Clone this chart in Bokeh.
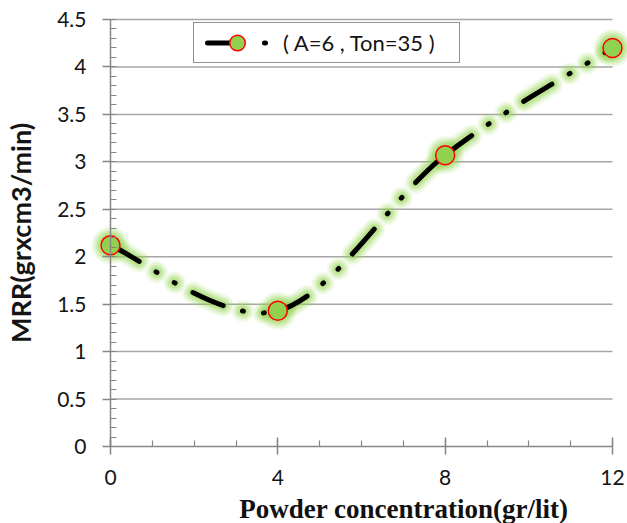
from bokeh.plotting import figure
from bokeh.models import (Range1d, LinearAxis, FixedTicker, Legend, LegendItem, Label)
from bokeh.embed import file_html
from bokeh.resources import INLINE

# data
powder = [0, 4, 8, 12]
mrr = [2.12, 1.43, 3.07, 4.2]
x_ticks = [0, 4, 8, 12]
y_ticks = [0, 0.5, 1, 1.5, 2, 2.5, 3, 3.5, 4, 4.5]
series_label = "( A=6 , Ton=35 )"
x_title = "Powder concentration(gr/lit)"
y_title = "MRR(grxcm3/min)"

# smooth (Excel-like) bezier control points derived from data
n = len(powder)
x0s, y0s, x1s, y1s, cx0, cy0, cx1, cy1 = [], [], [], [], [], [], [], []
for i in range(n - 1):
    ip = max(i - 1, 0)
    i2 = min(i + 2, n - 1)
    x0s.append(powder[i]); y0s.append(mrr[i])
    x1s.append(powder[i + 1]); y1s.append(mrr[i + 1])
    cx0.append(powder[i] + (powder[i + 1] - powder[ip]) / 6)
    cy0.append(mrr[i] + (mrr[i + 1] - mrr[ip]) / 6)
    cx1.append(powder[i + 1] - (powder[i2] - powder[i]) / 6)
    cy1.append(mrr[i + 1] - (mrr[i2] - mrr[i]) / 6)

W, H = 627, 523
axis_x_px, axis_y_px = 110, 446
px_per_x = (612 - 110) / 12.0
px_per_y = (446 - 19) / 4.5
x_start = -axis_x_px / px_per_x
x_end = 12 + (W - 612) / px_per_x
y_start = -(H - axis_y_px) / px_per_y
y_end = 4.5 + 19 / px_per_y

p = figure(width=W, height=H, output_backend="svg", toolbar_location=None,
           x_range=Range1d(x_start, x_end), y_range=Range1d(y_start, y_end),
           x_axis_location=None, y_axis_location=None,
           min_border_left=0, min_border_right=0,
           min_border_top=0, min_border_bottom=0)
p.outline_line_color = None
p.xgrid.visible = False
p.ygrid.visible = False
p.background_fill_color = "white"

GRID = "#A6A6A6"
AX = "#868686"
FONT = "Lato"
TXT = "#141414"

# horizontal gridlines from the axis to the last category
gy = [v for v in y_ticks if v > 0]
p.segment(x0=[0] * len(gy), x1=[12] * len(gy), y0=gy, y1=gy,
          line_color=GRID, line_width=1.5)

yaxis = LinearAxis(ticker=FixedTicker(ticks=y_ticks,
                                      minor_ticks=[i / 10 for i in range(0, 46)]),
                   bounds=(0, 4.5), fixed_location=0, axis_label=y_title)
yaxis.axis_line_color = AX
yaxis.axis_line_width = 1.5
yaxis.major_tick_line_color = AX
yaxis.major_tick_line_width = 1.5
yaxis.minor_tick_line_color = AX
yaxis.minor_tick_line_width = 1.2
yaxis.major_tick_in = 0
yaxis.major_tick_out = 8
yaxis.minor_tick_in = 6
yaxis.minor_tick_out = 0
yaxis.major_label_standoff = 16
yaxis.major_label_text_font = FONT
yaxis.major_label_text_font_size = "21px"
yaxis.major_label_text_color = TXT
yaxis.axis_label_text_font = FONT
yaxis.axis_label_text_font_style = "bold"
yaxis.axis_label_text_font_size = "27px"
yaxis.axis_label_text_color = TXT
yaxis.axis_label_standoff = 17
p.add_layout(yaxis, "left")

xaxis = LinearAxis(ticker=FixedTicker(ticks=x_ticks, minor_ticks=list(range(0, 13))),
                   bounds=(0, 12), fixed_location=0)
xaxis.axis_line_color = AX
xaxis.axis_line_width = 1.5
xaxis.major_tick_line_color = AX
xaxis.major_tick_line_width = 1.5
xaxis.minor_tick_line_color = AX
xaxis.minor_tick_line_width = 1.2
xaxis.major_tick_in = 9
xaxis.major_tick_out = 8
xaxis.minor_tick_in = 6
xaxis.minor_tick_out = 0
xaxis.major_label_standoff = 15
xaxis.major_label_text_font = FONT
xaxis.major_label_text_font_size = "21px"
xaxis.major_label_text_color = TXT
p.add_layout(xaxis, "below")

p.add_layout(Label(x=12, y=0, x_offset=-44, y_offset=-62, text=x_title,
                   text_align="right", text_baseline="alphabetic",
                   text_font="Liberation Serif", text_font_style="bold",
                   text_font_size="27px", text_color="#111111"))

DASH = "33 20 1 20 1 20"
GLOW = "#96D455"

# glow layers
for w, a in [(22, 0.12), (18, 0.17), (14, 0.24), (10, 0.33)]:
    p.bezier(x0=x0s, y0=y0s, x1=x1s, y1=y1s, cx0=cx0, cy0=cy0, cx1=cx1, cy1=cy1,
             line_color=GLOW, line_alpha=a, line_width=w,
             line_dash=DASH, line_cap="round", line_join="round")
    p.scatter(powder, mrr, size=19 + (w - 3), fill_color=GLOW, fill_alpha=a,
              line_color=None)

curve = p.bezier(x0=x0s, y0=y0s, x1=x1s, y1=y1s, cx0=cx0, cy0=cy0, cx1=cx1, cy1=cy1,
                 line_color="black", line_width=5, line_dash=DASH,
                 line_cap="round", line_join="round")
marks = p.scatter(powder, mrr, size=19, fill_color="#92D050", line_color="#FF0000",
                  line_width=1.5)

# legend sample line: a single-point line draws nothing on the plot,
# only its look is used by the legend
legend_line = p.line(x=powder[:1], y=mrr[:1], line_color="black", line_width=5,
                     line_dash="33 24 1 37", line_dash_offset=82, line_cap="round")

legend = Legend(items=[LegendItem(label=series_label, renderers=[legend_line, marks])],
                location=(193, H - 63),
                glyph_width=86, glyph_height=39, label_standoff=3, label_width=176,
                label_text_font=FONT, label_text_font_size="22px",
                label_text_color=TXT,
                border_line_color="#222222", border_line_width=1.5,
                background_fill_color="white", background_fill_alpha=1,
                padding=0, margin=0, spacing=0)
p.add_layout(legend)

open("out.html", "w").write(file_html(p, INLINE))
